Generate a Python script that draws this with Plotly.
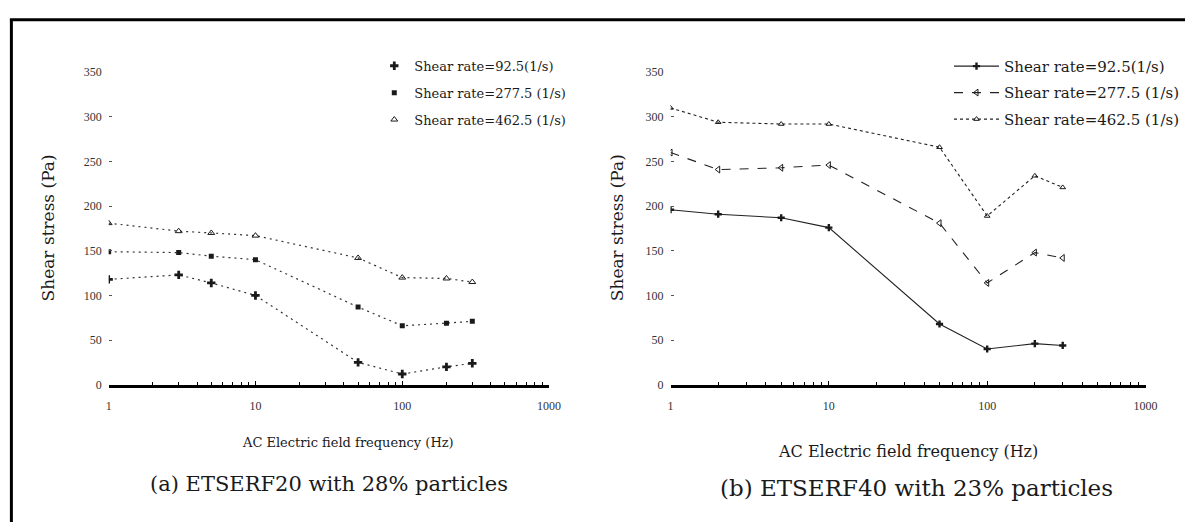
import plotly.graph_objects as go

# Frequencies (Hz) and shear stress (Pa) for the two fluids
freq_a = [1, 3, 5, 10, 50, 100, 200, 300]
stress_a_92 = [118, 123, 114, 100, 25, 12, 20, 24]
stress_a_277 = [149, 148, 144, 140, 87, 66, 69, 71]
stress_a_462 = [181, 172, 170, 167, 142, 120, 119, 115]

freq_b = [1, 2, 5, 10, 50, 100, 200, 300]
stress_b_92 = [196, 191, 187, 176, 68, 40, 46, 44]
stress_b_277 = [260, 241, 243, 246, 181, 114, 148, 142]
stress_b_462 = [310, 294, 292, 292, 266, 189, 234, 221]

series_names = ["Shear rate=92.5(1/s)", "Shear rate=277.5 (1/s)", "Shear rate=462.5 (1/s)"]
y_ticks = [0, 50, 100, 150, 200, 250, 300, 350]
x_ticks = [1, 10, 100, 1000]
x_tick_text = ["1", "10", "100", "1000"]
x_minor = [m * 10 ** k for k in range(3) for m in range(2, 10)]

FONT = "Liberation Serif"
WIDE = "DejaVu Serif"
INK = "#1a1a1a"
W, H = 1197, 529


def px_x(p):
    return p / W


def px_y(p):
    return 1 - p / H


fig = go.Figure()

# Panel (a): dotted connecting lines, marker-only legend
markers_a = [
    dict(symbol="cross", size=7, color=INK),
    dict(symbol="square", size=5, color=INK),
    dict(symbol="triangle-up-open", size=6, color=INK, line=dict(width=1, color=INK)),
]
for ys, mk, name in zip([stress_a_92, stress_a_277, stress_a_462], markers_a, series_names):
    fig.add_trace(go.Scatter(
        x=freq_a, y=ys, mode="lines", xaxis="x", yaxis="y",
        line=dict(color="#333333", width=1.2, dash="2px,4px"), showlegend=False,
        hoverinfo="skip"))
    fig.add_trace(go.Scatter(
        x=freq_a, y=ys, mode="markers", xaxis="x", yaxis="y", name=name,
        marker=mk, legend="legend", legendgroup=name + "a"))

# Panel (b)
styles_b = [
    (dict(color="#222222", width=1.1, dash="solid"), dict(symbol="cross", size=6, color=INK)),
    (dict(color="#222222", width=1.1, dash="dash"),
     dict(symbol="triangle-left-open", size=6, color=INK, line=dict(width=1, color=INK))),
    (dict(color="#222222", width=1.1, dash="dot"),
     dict(symbol="triangle-up-open", size=5, color=INK, line=dict(width=1, color=INK))),
]
for ys, (ln, mk), name in zip([stress_b_92, stress_b_277, stress_b_462], styles_b, series_names):
    fig.add_trace(go.Scatter(
        x=freq_b, y=ys, mode="lines+markers", xaxis="x2", yaxis="y2", name=name,
        line=ln, marker=mk, legend="legend2", legendgroup=name + "b"))

xaxis_common = dict(
    type="log", range=[0, 3], tickvals=x_ticks, ticktext=x_tick_text,
    showline=True, linewidth=2.5, linecolor="black", showgrid=False, zeroline=False,
    ticks="inside", ticklen=4, tickcolor="black",
    minor=dict(tickmode="array", tickvals=x_minor, ticks="inside", ticklen=3,
               tickcolor="black", showgrid=False),
    tickfont=dict(family=FONT, size=12, color="#333333"), ticklabelstandoff=8,
)
yaxis_common = dict(
    range=[0, 350], tickvals=y_ticks, showline=False, showgrid=False, zeroline=False,
    ticks="inside", ticklen=3, tickcolor="#555555",
    tickfont=dict(family=FONT, size=12, color="#333333"), ticklabelstandoff=6,
)

y_dom = [px_y(388), px_y(67)]
fig.update_layout(
    width=W, height=H, margin=dict(l=0, r=0, t=0, b=0),
    paper_bgcolor="white", plot_bgcolor="white",
    font=dict(family=FONT, color=INK),
    xaxis=dict(domain=[px_x(107), px_x(553)], anchor="y", **xaxis_common),
    yaxis=dict(domain=y_dom, anchor="x", **yaxis_common),
    xaxis2=dict(domain=[px_x(676), px_x(1157)], anchor="y2", **xaxis_common),
    yaxis2=dict(domain=y_dom, anchor="x2", **yaxis_common),
    legend=dict(x=px_x(376), y=px_y(45), xanchor="left", yanchor="top",
                bgcolor="rgba(0,0,0,0)", font=dict(family=WIDE, size=13, color=INK),
                tracegroupgap=7, itemwidth=30),
    legend2=dict(x=px_x(958), y=px_y(44), xanchor="left", yanchor="top",
                 bgcolor="rgba(0,0,0,0)", font=dict(family=WIDE, size=15, color=INK),
                 tracegroupgap=4, itemwidth=45),
    showlegend=True,
)

# Axis titles and panel captions
texts = [
    ("Shear stress (Pa)", 46, 227, 17, -90),
    ("Shear stress (Pa)", 622, 227, 17, -90),
    ("AC Electric field frequency (Hz)", 349, 447, 13, 0),
    ("AC Electric field frequency (Hz)", 916, 457, 16, 0),
    ("(a) ETSERF20 with 28% particles", 330, 490, 21, 0),
    ("(b) ETSERF40 with 23% particles", 925, 494, 23, 0),
]
for t, x, y, s, ang in texts:
    fig.add_annotation(text=t, x=px_x(x), y=px_y(y), xref="paper", yref="paper",
                       showarrow=False, textangle=ang, xanchor="center", yanchor="middle",
                       font=dict(family=WIDE, size=s, color=INK))

# Outer frame (left and top edges)
fig.add_shape(type="line", xref="paper", yref="paper",
              x0=px_x(8.5), x1=px_x(8.5), y0=0, y1=px_y(12.5), line=dict(color="black", width=3))
fig.add_shape(type="line", xref="paper", yref="paper",
              x0=px_x(7), x1=1, y0=px_y(13), y1=px_y(13), line=dict(color="black", width=3))

fig.write_html("out.html")
